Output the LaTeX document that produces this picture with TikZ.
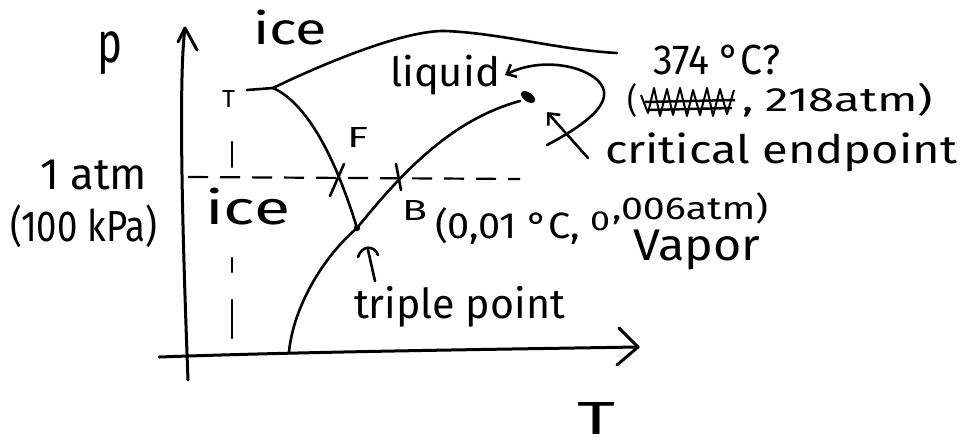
\documentclass[tikz,border=0pt]{standalone}
\usepackage{fontspec}
\setmainfont{Fira Sans}
\usepackage{graphicx}
\usetikzlibrary{arrows.meta}
\newcommand{\fitt}[3]{\resizebox*{#1pt}{#2pt}{#3}}
\begin{document}
\begin{tikzpicture}[x=1pt,y=-1pt,
  lbl/.style={anchor=north west,inner sep=0pt,outer sep=0pt},
  ink/.style={line width=2.6pt,line cap=round,line join=round},
  axis/.style={line width=3pt,line cap=round,line join=round},
  dashline/.style={line width=2.2pt,dash pattern=on 20pt off 12pt}]
\useasboundingbox (0,0) rectangle (963,445);
% axes
\coordinate (yb) at (188,380);
\coordinate (yt) at (185,28);
\draw[axis] (yb) .. controls (183,250) and (178,80) .. (yt);
\draw[axis] (178,42) -- (yt) -- (197,50);
\coordinate (xl) at (159,357);
\coordinate (xr) at (638,347);
\draw[axis] (xl) .. controls (300,352) and (450,350) .. (xr);
\draw[axis] (619,328) -- (xr) -- (617,365);
% key points
\coordinate (tp) at (357,228);
\coordinate (top) at (273,88);
\coordinate (base) at (289,352);
\coordinate (cp) at (528,97);
% curves
\draw[ink] (top) .. controls (310,70) and (400,30) .. (445,31)
  .. controls (500,33) and (560,50) .. (617,53);
\draw[ink] (top) .. controls (300,100) and (330,140) .. (tp);
\draw[ink] (base) .. controls (293,310) and (320,260) .. (tp)
  .. controls (400,175) and (450,120) .. (520,101);
\fill[rotate around={-35:(cp)}] (cp) ellipse (8pt and 4.5pt);
\fill (tp) circle (3.2pt);
% dashed lines
\draw[dashline] (188,177) -- (520,179);
\draw[ink] (232,142) -- (232,167);
\draw[ink] (232,258) -- (232,272);
\draw[ink] (232,300) -- (232,338);
\draw[ink] (247,90) -- (top);
% cross marks
\draw[ink] (344,164) -- (330,196);
\draw[ink] (396,164) -- (401,190);
% triple point pointer
\draw[ink] (368,250) -- (375,281);
\draw[ink] (358,257) .. controls (362,245) and (374,245) .. (378,255);
% loop arrow to liquid
\coordinate (lpS) at (547,145);
\coordinate (lpE) at (505,75);
\draw[ink,-{Straight Barb[length=8pt,width=14pt]}] (lpS) .. controls (585,125) and (610,105) .. (603,88)
  .. controls (595,68) and (545,55) .. (lpE);
% critical endpoint pointer
\coordinate (ceS) at (588,158);
\coordinate (ceE) at (547,112);
\draw[ink,-{Straight Barb[length=9pt,width=16pt]}] (ceS) -- (ceE);
% scribble
\draw[line width=2pt,line join=round]
  (641,95) -- (648,113) -- (654,88) -- (660,116) -- (667,89) -- (673,115) -- (680,88)
  -- (687,116) -- (693,90) -- (700,115) -- (707,88) -- (713,116) -- (720,89) -- (727,114) -- (734,90);
\draw[line width=2.5pt] (645,102) -- (735,100);
\draw[line width=2.5pt] (648,110) -- (732,108);
% labels
\node[lbl] (lp) at (97,32) {\fitt{25}{43}{p}};
\node[lbl] (lice1) at (253,10) {\fitt{74}{35}{ice}};
\node[lbl] (lliq) at (390,55) {\fitt{110}{40}{liquid}};
\node[lbl] (l374) at (653,45) {\fitt{127}{30}{374 °C?}};
\node[lbl] (lpar) at (627,83) {\fitt{10}{34}{(}};
\node[lbl] (l218) at (742,83) {\fitt{191}{34}{, 218atm)}};
\node[lbl] (lcrit) at (605,133) {\fitt{352}{39}{critical endpoint}};
\node[lbl] (latm) at (40,160) {\fitt{107}{30}{1 atm}};
\node[lbl] (lkpa) at (10,205) {\fitt{147}{43}{(100 kPa)}};
\node[lbl] (lice2) at (205,188) {\fitt{85}{37}{ice}};
\node[lbl] (lF) at (347,127) {\fitt{21}{20}{F}};
\node[lbl] (lB) at (402,200) {\fitt{25}{20}{B}};
\node[lbl] (ltpc) at (435,208) {\fitt{145}{37}{(0,01 °C,}};
\node[lbl] (lzero) at (590,212) {\fitt{20}{19}{0}};
\node[lbl] (ltpp) at (612,193) {\fitt{156}{32}{,006atm)}};
\node[lbl] (lvap) at (633,230) {\fitt{127}{40}{Vapor}};
\node[lbl] (ltrip) at (354,286) {\fitt{211}{41}{triple point}};
\node[lbl] (lT) at (577,402) {\fitt{38}{32}{T}};
\node[lbl] (lTs) at (222,90) {\fitt{13}{17}{T}};
\end{tikzpicture}
\end{document}
